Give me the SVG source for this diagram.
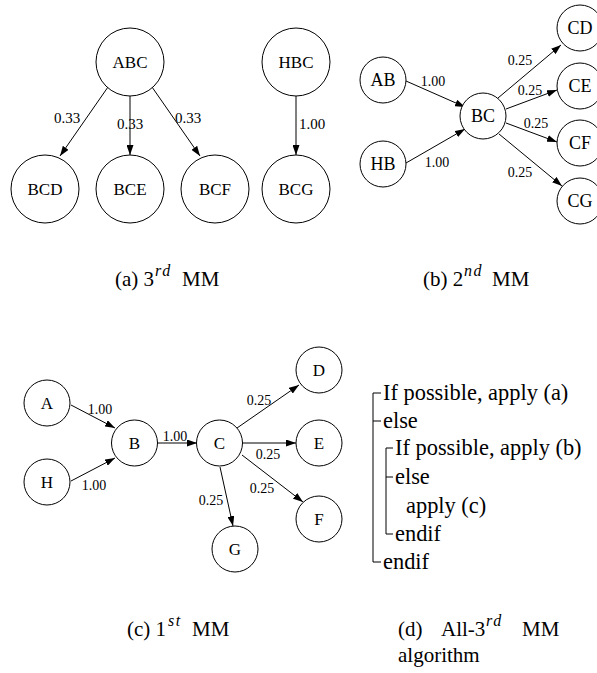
<svg xmlns="http://www.w3.org/2000/svg" width="597" height="673" viewBox="0 0 597 673">
<defs>
<marker id="ah" markerUnits="userSpaceOnUse" markerWidth="10" markerHeight="7" refX="10" refY="3.5" orient="auto">
<path d="M0,0 L10,3.5 L0,7 z" fill="#000"/>
</marker>
</defs>
<style>
text{font-family:'Liberation Serif','Times New Roman','DejaVu Serif',serif;fill:#000}
.n circle{fill:#fff;stroke:#000;stroke-width:1}
.n text{font-size:17px;text-anchor:middle;dominant-baseline:central}
.nb text{font-size:18px}
.e line{stroke:#000;stroke-width:1;marker-end:url(#ah)}
.lb{font-size:14px;text-anchor:middle;dominant-baseline:central}
.la{font-size:15px}
.cap{font-size:21px}
.sup{font-style:italic;font-size:16px;letter-spacing:1.5px}
.alg{font-size:22.4px}
.br{stroke:#000;stroke-width:1;fill:none}
</style>
<rect width="597" height="673" fill="#fff"/>

<g id="connectors">
<g class="e">
<line x1="108" y1="87" x2="60" y2="156"/>
<line x1="130" y1="96" x2="130" y2="155"/>
<line x1="152" y1="87" x2="200" y2="156"/>
<line x1="296" y1="96" x2="296" y2="155"/>
<line x1="406" y1="81" x2="465" y2="107"/>
<line x1="406" y1="163" x2="465" y2="129"/>
<line x1="498" y1="98" x2="561" y2="45"/>
<line x1="506" y1="109" x2="557" y2="90"/>
<line x1="506" y1="123" x2="557" y2="142"/>
<line x1="499" y1="134" x2="562" y2="186"/>
<line x1="71" y1="405" x2="115" y2="428"/>
<line x1="71" y1="481" x2="115" y2="458"/>
<line x1="157" y1="443" x2="197" y2="443"/>
<line x1="237" y1="428" x2="299" y2="385"/>
<line x1="242" y1="443" x2="296" y2="443"/>
<line x1="242" y1="455" x2="303" y2="502"/>
<line x1="220" y1="467" x2="233" y2="526"/>
</g>
<text class="lb la" x="67" y="118">0.33</text>
<text class="lb la" x="130" y="124">0.33</text>
<text class="lb la" x="188" y="118">0.33</text>
<text class="lb la" x="312" y="124">1.00</text>
<text class="lb" x="433" y="81">1.00</text>
<text class="lb" x="437" y="162">1.00</text>
<text class="lb" x="520" y="60">0.25</text>
<text class="lb" x="530" y="90">0.25</text>
<text class="lb" x="536" y="123">0.25</text>
<text class="lb" x="520" y="172">0.25</text>
<text class="lb" x="100" y="409">1.00</text>
<text class="lb" x="94" y="485">1.00</text>
<text class="lb" x="175" y="436">1.00</text>
<text class="lb" x="259" y="400">0.25</text>
<text class="lb" x="268" y="454">0.25</text>
<text class="lb" x="262" y="488">0.25</text>
<text class="lb" x="211" y="500">0.25</text>
</g>

<g id="ABC" class="n"><circle cx="130" cy="62" r="34"/><text x="130" y="62">ABC</text></g>
<g id="BCD" class="n"><circle cx="45" cy="189" r="34"/><text x="45" y="189">BCD</text></g>
<g id="BCE" class="n"><circle cx="130" cy="189" r="34"/><text x="130" y="189">BCE</text></g>
<g id="BCF" class="n"><circle cx="215" cy="189" r="34"/><text x="215" y="189">BCF</text></g>
<g id="HBC" class="n"><circle cx="296" cy="62" r="34"/><text x="296" y="62">HBC</text></g>
<g id="BCG" class="n"><circle cx="296" cy="189" r="34"/><text x="296" y="189">BCG</text></g>

<g id="AB" class="n nb"><circle cx="383" cy="80" r="23"/><text x="383" y="80">AB</text></g>
<g id="HB" class="n nb"><circle cx="383" cy="164" r="23"/><text x="383" y="164">HB</text></g>
<g id="BC" class="n nb"><circle cx="483" cy="116" r="23"/><text x="483" y="116">BC</text></g>
<g id="CD" class="n nb"><circle cx="580" cy="28" r="23"/><text x="580" y="28">CD</text></g>
<g id="CE" class="n nb"><circle cx="580" cy="86" r="23"/><text x="580" y="86">CE</text></g>
<g id="CF" class="n nb"><circle cx="580" cy="143" r="23"/><text x="580" y="143">CF</text></g>
<g id="CG" class="n nb"><circle cx="580" cy="201" r="23"/><text x="580" y="201">CG</text></g>

<g id="A" class="n"><circle cx="47" cy="403" r="23"/><text x="47" y="403">A</text></g>
<g id="H" class="n"><circle cx="47" cy="482" r="23"/><text x="47" y="482">H</text></g>
<g id="B" class="n"><circle cx="134.5" cy="443" r="23"/><text x="134.5" y="443">B</text></g>
<g id="C" class="n"><circle cx="219.5" cy="443" r="23"/><text x="219.5" y="443">C</text></g>
<g id="D" class="n"><circle cx="319" cy="370" r="23"/><text x="319" y="370">D</text></g>
<g id="E" class="n"><circle cx="319" cy="443" r="23"/><text x="319" y="443">E</text></g>
<g id="F" class="n"><circle cx="319" cy="519" r="23"/><text x="319" y="519">F</text></g>
<g id="G" class="n"><circle cx="235" cy="549" r="23"/><text x="235" y="549">G</text></g>

<g id="algorithm">
<path class="br" d="M381,393 H373 V562 H381 M373,421 H381"/>
<path class="br" d="M393,448 H386 V534 H393 M386,477 H393"/>
<text class="alg" x="383" y="400">If possible, apply (a)</text>
<text class="alg" x="383" y="428">else</text>
<text class="alg" x="395" y="455">If possible, apply (b)</text>
<text class="alg" x="395" y="484">else</text>
<text class="alg" x="406" y="513">apply (c)</text>
<text class="alg" x="395" y="541">endif</text>
<text class="alg" x="383" y="569">endif</text>
</g>

<g id="captions">
<text class="cap" y="286"><tspan x="115">(a) 3</tspan><tspan class="sup" x="155" y="276">rd</tspan><tspan x="182" y="286">MM</tspan></text>
<text class="cap" y="286"><tspan x="423">(b) 2</tspan><tspan class="sup" x="464" y="276">nd</tspan><tspan x="492" y="286">MM</tspan></text>
<text class="cap" y="636"><tspan x="127">(c) 1</tspan><tspan class="sup" x="168" y="626">st</tspan><tspan x="192" y="636">MM</tspan></text>
<text class="cap" y="636"><tspan x="398">(d)</tspan><tspan x="441">All-3</tspan><tspan class="sup" x="486" y="626">rd</tspan><tspan x="522" y="636">MM</tspan></text>
<text class="cap" x="398" y="662">algorithm</text>
</g>
</svg>
